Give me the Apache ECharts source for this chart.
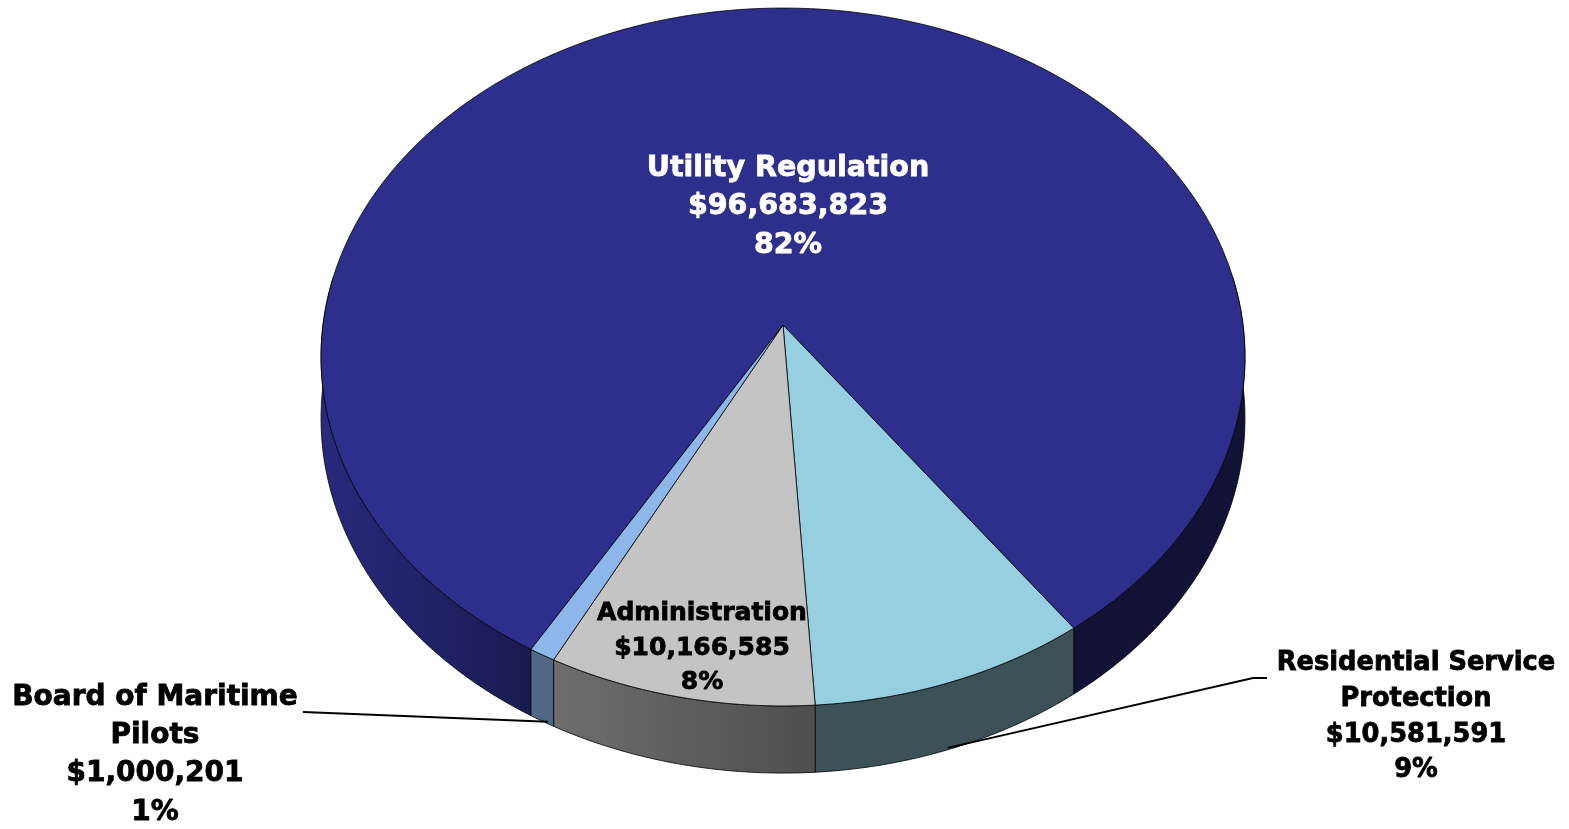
<!DOCTYPE html>
<html><head><meta charset="utf-8">
<script src="https://cdn.jsdelivr.net/npm/echarts@6/dist/echarts.min.js"></script>
<style>html,body{margin:0;padding:0;background:#fff}#c{width:1569px;height:829px}</style>
</head><body><div id="c"></div>
<script>
// ---- data ----
const categories = ['Utility Regulation', 'Residential Service\nProtection', 'Administration', 'Board of Maritime\nPilots'];
const amounts = [96683823, 10581591, 10166585, 1000201];
const percents = [82, 9, 8, 1];

// ---- layout & style ----
const topColors = [[46,46,140],[150,207,224],[196,196,196],[141,182,234]];
const labelPos = [[788,207],[1416,717],[702,648],[155,755]];
const labelSize = [28.5, 25.7, 25, 28];
const labelLH = [38.5, 35.7, 34.5, 38.3];
const labelColor = ['#ffffff','#000000','#000000','#000000'];
const leaderElbows = [null, [[1267,678],[1253,678]], null, [[303,712]]];
const leaderFrac = [0, 0.52, 0, 0.25];
const leaderDepth = [0, 0.97, 0, 0.97];
const geo = {cx:783, cy:325, R:460, Ry:346, k:0.0917, depth:61, start:120.3};

const total = amounts.reduce((a,b)=>a+b,0);
function proj(deg, down) {
  const t = deg*Math.PI/180, u = Math.cos(t), v = Math.sin(t);
  const s = 1/(1 - geo.k*v);
  return [geo.cx + geo.R*u*s, geo.cy + geo.Ry*v*s + down*geo.depth*s];
}
function sliceAngles(i){
  let c = 0; for (let j=0;j<i;j++) c += amounts[j];
  const a1 = geo.start + c/total*360;
  return [a1, a1 + amounts[i]/total*360];
}
function arc(a1, a2, down){
  const n = Math.max(2, Math.ceil(Math.abs(a2-a1)/0.5));
  const pts = [];
  for (let j=0;j<=n;j++) pts.push(proj(a1+(a2-a1)*j/n, down));
  return pts;
}
function shade(deg){
  let d = ((deg%360)+360)%360; if (d>270) d -= 360;
  if (d <= 85) return 0.39;
  return Math.min(0.9, 0.39 + 0.5*(d-85)/95);
}
function rgb(c, f){ return 'rgb(' + c.map(x=>Math.round(x*f)).join(',') + ')'; }
function visiblePieces(a1, a2){
  const res = [];
  for (const off of [-360, 0, 360]) {
    const lo = Math.max(a1, -8+off), hi = Math.min(a2, 188+off);
    if (hi > lo) res.push([lo, hi]);
  }
  return res;
}
const edge = 'rgba(0,0,0,0.8)';

function renderSide(params, api){
  const i = params.dataIndex;
  const [a1, a2] = sliceAngles(i);
  const children = visiblePieces(a1, a2).map(([lo, hi]) => {
    const pts = arc(lo, hi, 0).concat(arc(hi, lo, 1));
    return {
      type:'polygon', shape:{points:pts},
      style:{
        fill:{type:'linear', x:0, y:0, x2:1, y2:0, colorStops:[
          {offset:0, color: rgb(topColors[i], shade(hi))},
          {offset:1, color: rgb(topColors[i], shade(lo))}]},
        stroke: edge, lineWidth: 1
      }
    };
  });
  return {type:'group', children};
}

function renderTop(params, api){
  const i = params.dataIndex;
  const [a1, a2] = sliceAngles(i);
  const pts = [[geo.cx, geo.cy]].concat(arc(a1, a2, 0));
  const children = [{
    type:'polygon', shape:{points:pts}, z2:1,
    style:{fill: rgb(topColors[i], 1), stroke: edge, lineWidth: 1}
  }];
  if (leaderElbows[i]) {
    const ang = a1 + (a2 - a1)*leaderFrac[i];
    const p = proj(ang, leaderDepth[i]);
    children.push({type:'polyline', z2:5, shape:{points: leaderElbows[i].concat([p])},
      style:{stroke:'#000', lineWidth:1.8, fill:null}});
  }
  const txt = categories[i] + '\n$' + api.value(0).toLocaleString('en-US') + '\n' + percents[i] + '%';
  children.push({
    type:'text', z2:10,
    style:{text: txt, x: labelPos[i][0], y: labelPos[i][1], fill: labelColor[i],
      fontSize: labelSize[i], fontWeight:'bold', fontFamily:'DejaVu Sans',
      align:'center', verticalAlign:'middle', lineHeight: labelLH[i],
      stroke: labelColor[i], lineWidth: 0.8}
  });
  return {type:'group', children};
}

const data = amounts.map((v, i) => ({name: categories[i], value: [v]}));
const chart = echarts.init(document.getElementById('c'), null, {renderer:'canvas'});
chart.setOption({
  backgroundColor:'#ffffff',
  animation:false,
  series:[
    {type:'custom', coordinateSystem:'none', renderItem: renderSide, data, z:1, silent:true},
    {type:'custom', coordinateSystem:'none', renderItem: renderTop, data, z:2, silent:true}
  ]
});
</script></body></html>
